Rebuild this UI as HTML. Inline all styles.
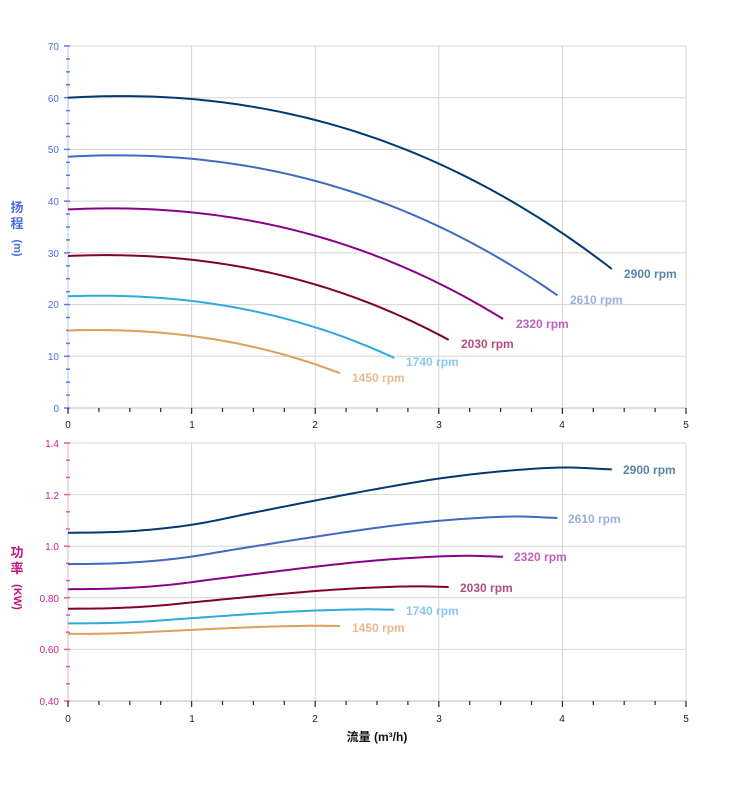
<!DOCTYPE html>
<html><head><meta charset="utf-8">
<style>
body{margin:0;background:#fff;}
svg{display:block;font-family:"Liberation Sans","Noto Sans CJK SC",sans-serif;}
</style></head>
<body>
<svg id="s" width="752" height="797" viewBox="0 0 752 797" xmlns="http://www.w3.org/2000/svg">
<g id="grid" stroke="#d4d4d4" stroke-width="1" fill="none"></g>
<g id="ticks"></g>
<g id="curves" fill="none" stroke-width="2"></g>
<g font-size="10" fill="#4a6ee0" text-anchor="end">
<text x="59" y="50">70</text><text x="59" y="102">60</text><text x="59" y="153">50</text>
<text x="59" y="205">40</text><text x="59" y="257">30</text><text x="59" y="308">20</text>
<text x="59" y="360">10</text><text x="59" y="412">0</text>
</g>
<g font-size="10" fill="#d02090" text-anchor="end">
<text x="59" y="447">1.4</text><text x="59" y="499">1.2</text><text x="59" y="550">1.0</text>
<text x="59" y="602">0.80</text><text x="59" y="653">0.60</text><text x="59" y="705">0.40</text>
</g>
<g font-size="10" fill="#222" text-anchor="middle">
<text x="68" y="428">0</text><text x="192" y="428">1</text><text x="315" y="428">2</text>
<text x="439" y="428">3</text><text x="562" y="428">4</text><text x="686" y="428">5</text>
<text x="68" y="722">0</text><text x="192" y="722">1</text><text x="315" y="722">2</text>
<text x="439" y="722">3</text><text x="562" y="722">4</text><text x="686" y="722">5</text>
</g>
<g font-size="13" font-weight="bold" fill="#4a6ee0" text-anchor="middle">
<text x="17" y="212">扬</text><text x="17" y="228">程</text>
<text x="17" y="248" font-size="11" transform="rotate(90 17 248)" text-anchor="middle" dominant-baseline="middle">(m)</text>
</g>
<g font-size="13" font-weight="bold" fill="#c0157a" text-anchor="middle">
<text x="17" y="557">功</text><text x="17" y="573">率</text>
<text x="17" y="597" font-size="11" transform="rotate(90 17 597)" text-anchor="middle" dominant-baseline="middle">(KW)</text>
</g>
<text x="377" y="741" font-size="12" font-weight="bold" fill="#111" text-anchor="middle">流量 (m³/h)</text>
<g font-size="12" font-weight="bold">
<text x="624" y="278" fill="#5a84a8">2900 rpm</text>
<text x="570" y="304" fill="#9aaee0">2610 rpm</text>
<text x="516" y="328" fill="#c060c0">2320 rpm</text>
<text x="461" y="348" fill="#b0507a">2030 rpm</text>
<text x="406" y="366" fill="#88c8f0">1740 rpm</text>
<text x="352" y="382" fill="#e8b890">1450 rpm</text>
<text x="623" y="474" fill="#5a84a8">2900 rpm</text>
<text x="568" y="523" fill="#9aaee0">2610 rpm</text>
<text x="514" y="561" fill="#c060c0">2320 rpm</text>
<text x="460" y="592" fill="#b0507a">2030 rpm</text>
<text x="406" y="615" fill="#88c8f0">1740 rpm</text>
<text x="352" y="632" fill="#e8b890">1450 rpm</text>
</g>
</svg>
<script>
var NS="http://www.w3.org/2000/svg";
function el(p,t,a){var e=document.createElementNS(NS,t);for(var k in a)e.setAttribute(k,a[k]);p.appendChild(e);return e;}
var grid=document.getElementById('grid'),ticks=document.getElementById('ticks'),cv=document.getElementById('curves');
function X(q){return 68+123.6*q;}
for(var i=0;i<=7;i++){var y=408-51.71*i;el(grid,'line',{x1:68,x2:686,y1:y,y2:y});}
for(var i=1;i<=5;i++){el(grid,'line',{x1:X(i),x2:X(i),y1:46,y2:408});el(grid,'line',{x1:X(i),x2:X(i),y1:443,y2:701});}
for(var i=0;i<=5;i++){var y=443+51.6*i;el(grid,'line',{x1:68,x2:686,y1:y,y2:y});}
el(ticks,'line',{x1:68,x2:68,y1:46,y2:408,stroke:'#b8c4e8','stroke-width':1});
el(ticks,'line',{x1:68,x2:68,y1:443,y2:701,stroke:'#e0b0d0','stroke-width':1});
el(ticks,'line',{x1:68,x2:686,y1:408,y2:408,stroke:'#bbb','stroke-width':1});
el(ticks,'line',{x1:68,x2:686,y1:701,y2:701,stroke:'#bbb','stroke-width':1});
for(var i=0;i<=28;i++){var y=408-12.93*i;var maj=i%4==0;el(ticks,'line',{x1:maj?64:66,x2:70,y1:y,y2:y,stroke:'#5a7ce8','stroke-width':1.5});}
for(var i=0;i<=15;i++){var y=443+17.2*i;var maj=i%3==0;el(ticks,'line',{x1:maj?64:66,x2:70,y1:y,y2:y,stroke:'#e060a8','stroke-width':1.5});}
for(var i=0;i<=20;i++){var x=X(i/4);var maj=i%4==0;
 el(ticks,'line',{x1:x,x2:x,y1:408,y2:maj?414:412,stroke:'#333','stroke-width':1.3});
 el(ticks,'line',{x1:x,x2:x,y1:701,y2:maj?707:705,stroke:'#333','stroke-width':1.3});}
var colors=['#003a6e','#4169bd','#8b008b','#800030','#30a8e0','#d9a060'];
var rpms=[2900,2610,2320,2030,1740,1450];
function H(q){return 60+1.45*q-1.601*q*q-0.0997*q*q*q;}
var gq=[0,0.5,1,1.5,2,2.5,3,3.5,4,4.4],gv=[1.052,1.058,1.083,1.13,1.177,1.222,1.262,1.29,1.305,1.298];
function G(q){if(q<=0)return gv[0];for(var i=0;i<gq.length-1;i++){if(q<=gq[i+1]){var t=(q-gq[i])/(gq[i+1]-gq[i]);
 var p0=gv[Math.max(i-1,0)],p1=gv[i],p2=gv[i+1],p3=gv[Math.min(i+2,gv.length-1)];
 return 0.5*((2*p1)+(-p0+p2)*t+(2*p0-5*p1+4*p2-p3)*t*t+(-p0+3*p1-3*p2+p3)*t*t*t);}}return gv[gv.length-1];}
for(var k=0;k<6;k++){var r=rpms[k]/2900,qe=4.4*r,d1='',d2='';
 for(var j=0;j<=80;j++){var q=qe*j/80;
  var h=r*r*H(q/r);var y=408-5.171*h;
  var p=0.604+r*r*r*(G(q/r)-0.604);var y2=443+(1.4-p)*258;
  d1+=(j?'L':'M')+X(q).toFixed(2)+' '+y.toFixed(2);
  d2+=(j?'L':'M')+X(q).toFixed(2)+' '+y2.toFixed(2);}
 el(cv,'path',{d:d1,stroke:colors[k]});el(cv,'path',{d:d2,stroke:colors[k]});}
</script>
</body></html>
